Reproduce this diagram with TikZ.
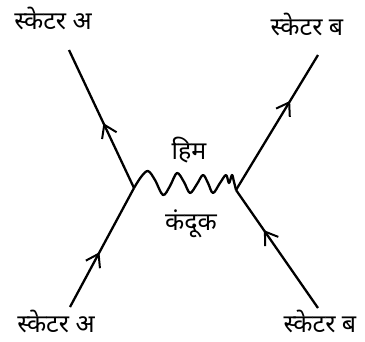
\documentclass[tikz,border=0pt]{standalone}
\usepackage{fontspec}
\newfontfamily\hindi[Script=Devanagari]{Noto Sans}
\usetikzlibrary{arrows.meta,decorations.markings}
\begin{document}
\begin{tikzpicture}[x=1pt,y=-1pt,
  lbl/.style={inner sep=0pt,font=\hindi\fontsize{25}{26}\selectfont},
  fline/.style={line width=2.3pt},
  midarrow/.style={postaction={decorate},decoration={markings,
    mark=at position #1 with {\arrow[line width=2pt]{Straight Barb[length=12pt,width=16pt]}}}}]
\useasboundingbox (0,0) rectangle (365,341);
\coordinate (vl) at (134,188);
\coordinate (vr) at (236,190);
\coordinate (tl) at (69,50);
\coordinate (bl) at (70,307);
\coordinate (tr) at (318,55);
\coordinate (br) at (318,308);
\draw[fline,midarrow=0.46] (bl) -- (vl);
\draw[fline,midarrow=0.47] (vl) -- (tl);
\draw[fline,midarrow=0.66] (vr) -- (tr);
\draw[fline,midarrow=0.66] (br) -- (vr);
\draw[fline,line join=round] plot[smooth,tension=0.55] coordinates {
  (vl) (141,177) (148,171) (155,180) (163,195) (170,186) (177,173) (184,182)
  (190,193) (197,184) (203,175) (208,183) (213,193) (220,183) (226,175)
  (229,183) (232,175) (234,182) (vr)};
\node[lbl] (lta) at (53,18) {स्केटर अ};
\node[lbl] (ltb) at (307,24) {स्केटर ब};
\node[lbl] (lba) at (56,321) {स्केटर अ};
\node[lbl] (lbb) at (320,321) {स्केटर ब};
\node[lbl] (him) at (189,150) {हिम};
\node[lbl] (kan) at (191,224) {कंदूक};
\end{tikzpicture}
\end{document}
